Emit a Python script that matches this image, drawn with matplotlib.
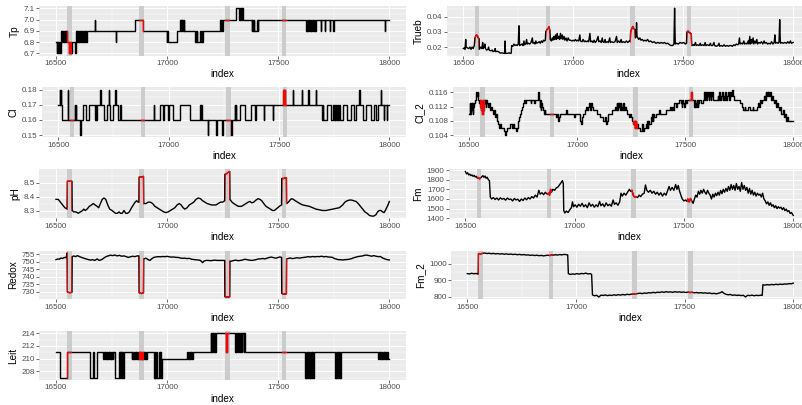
import numpy as np
import matplotlib
matplotlib.use("Agg")
import matplotlib.pyplot as plt
import matplotlib.patches as mpatches
from matplotlib.transforms import blended_transform_factory

plt.rcParams['font.family'] = ['Liberation Sans', 'DejaVu Sans']

# flagged intervals (grey bands, red parts of the lines)
bands = [(16551, 16572), (16874, 16894), (17260, 17282), (17516, 17537)]

# ---- step-like series: (index, value) where the value changes ----
tp = [(16500, 6.8), (16503, 6.7), (16506, 6.8), (16508, 6.7), (16511, 6.8), (16513, 6.7), (16516, 6.8),
      (16518, 6.7), (16521, 6.8), (16524, 6.9), (16527, 6.8), (16529, 6.9), (16532, 6.8), (16535, 6.9),
      (16538, 6.8), (16541, 6.9), (16544, 6.8), (16547, 6.9), (16550, 6.8), (16559, 6.7), (16562, 6.8),
      (16564, 6.7), (16567, 6.8), (16569, 6.7), (16572, 6.8), (16586, 6.7), (16588, 6.8), (16590, 6.9),
      (16593, 6.8), (16596, 6.9), (16599, 6.8), (16602, 6.9), (16605, 6.8), (16608, 6.9), (16611, 6.8),
      (16614, 6.9), (16617, 6.8), (16620, 6.9), (16623, 6.8), (16626, 6.9), (16629, 6.8), (16632, 6.9),
      (16635, 6.8), (16638, 6.9), (16675, 7.0), (16677, 6.9), (16769, 6.8), (16771, 6.9), (16855, 7.0),
      (16893, 6.9), (16998, 6.8), (17000, 6.9), (17002, 6.8), (17004, 6.9), (17006, 6.8), (17043, 6.9),
      (17058, 7.0), (17061, 6.9), (17063, 7.0), (17066, 6.9), (17069, 7.0), (17072, 6.9), (17074, 7.0),
      (17077, 6.9), (17125, 6.8), (17128, 6.9), (17130, 6.8), (17133, 6.9), (17135, 6.8), (17150, 6.9),
      (17152, 6.8), (17155, 6.9), (17157, 6.8), (17160, 6.9), (17238, 7.0), (17241, 6.9), (17244, 7.0),
      (17247, 6.9), (17250, 7.0), (17310, 7.1), (17325, 7.0), (17327, 7.1), (17330, 7.0), (17332, 7.1),
      (17335, 7.0), (17337, 7.1), (17340, 7.0), (17380, 6.9), (17383, 7.0), (17386, 6.9), (17389, 7.0),
      (17392, 6.9), (17405, 7.0), (17407, 6.9), (17410, 7.0), (17625, 6.9), (17628, 7.0), (17631, 6.9),
      (17634, 7.0), (17637, 6.9), (17640, 7.0), (17643, 6.9), (17646, 7.0), (17649, 6.9), (17652, 7.0),
      (17655, 6.9), (17658, 7.0), (17661, 6.9), (17664, 7.0), (17667, 6.9), (17670, 7.0), (17691, 6.9),
      (17693, 7.0), (17710, 6.9), (17712, 7.0), (17733, 6.9), (17735, 7.0), (17748, 6.9), (17750, 7.0),
      (17980, 6.9), (17982, 7.0), (18000, 7.0)]

cl = [(16500, 0.17), (16507, 0.18), (16509, 0.17), (16511, 0.18), (16513, 0.17), (16518, 0.16), (16543, 0.18),
      (16545, 0.16), (16575, 0.17), (16577, 0.16), (16579, 0.17), (16582, 0.16), (16598, 0.15), (16603, 0.16),
      (16612, 0.17), (16627, 0.16), (16638, 0.17), (16667, 0.16), (16669, 0.17), (16672, 0.16), (16675, 0.17),
      (16690, 0.18), (16692, 0.17), (16705, 0.16), (16720, 0.17), (16728, 0.18), (16730, 0.17), (16736, 0.16),
      (16750, 0.17), (16758, 0.18), (16760, 0.17), (16770, 0.16), (16781, 0.17), (16784, 0.16), (16932, 0.17),
      (16935, 0.16), (16959, 0.17), (16976, 0.16), (16978, 0.17), (16999, 0.16), (17001, 0.17), (17020, 0.16),
      (17052, 0.17), (17096, 0.16), (17143, 0.17), (17145, 0.16), (17147, 0.17), (17149, 0.16), (17176, 0.15),
      (17179, 0.16), (17216, 0.15), (17219, 0.16), (17243, 0.15), (17246, 0.16), (17284, 0.15), (17287, 0.16),
      (17299, 0.17), (17301, 0.16), (17303, 0.17), (17306, 0.16), (17325, 0.17), (17348, 0.16), (17372, 0.17),
      (17392, 0.16), (17394, 0.17), (17430, 0.16), (17432, 0.17), (17472, 0.16), (17474, 0.17), (17520, 0.18),
      (17522, 0.17), (17524, 0.18), (17527, 0.17), (17562, 0.18), (17564, 0.17), (17603, 0.18), (17605, 0.17),
      (17633, 0.18), (17635, 0.17), (17667, 0.18), (17669, 0.17), (17694, 0.16), (17697, 0.17), (17699, 0.16),
      (17719, 0.17), (17735, 0.16), (17745, 0.17), (17748, 0.16), (17752, 0.17), (17755, 0.16), (17760, 0.17),
      (17762, 0.16), (17766, 0.17), (17768, 0.16), (17772, 0.17), (17775, 0.16), (17790, 0.17), (17810, 0.16),
      (17825, 0.17), (17840, 0.16), (17850, 0.17), (17864, 0.18), (17866, 0.17), (17880, 0.16), (17895, 0.17),
      (17915, 0.16), (17930, 0.17), (17940, 0.16), (17950, 0.17), (17962, 0.18), (17964, 0.17), (17975, 0.16),
      (17977, 0.17), (17988, 0.16), (17990, 0.17), (18000, 0.17)]

leit = [(16500, 211), (16519, 207), (16551, 211), (16653, 207), (16668, 211), (16672, 207), (16686, 211),
        (16713, 210), (16716, 211), (16719, 210), (16722, 211), (16725, 210), (16728, 211), (16731, 210),
        (16734, 211), (16737, 210), (16740, 211), (16743, 210), (16746, 211), (16749, 210), (16752, 211),
        (16755, 210), (16758, 211), (16764, 207), (16784, 211), (16786, 207), (16789, 211), (16791, 207),
        (16794, 211), (16796, 207), (16799, 211), (16801, 207), (16804, 211), (16840, 210), (16843, 211),
        (16846, 210), (16849, 211), (16852, 210), (16855, 211), (16858, 210), (16861, 211), (16864, 210),
        (16867, 211), (16870, 210), (16873, 211), (16876, 210), (16879, 211), (16882, 210), (16885, 211),
        (16888, 210), (16891, 211), (16894, 210), (16897, 211), (16900, 210), (16903, 211), (16906, 210),
        (16908, 211), (16941, 207), (16944, 211), (16947, 207), (16950, 211), (16953, 207), (16965, 211),
        (16967, 207), (16970, 211), (16972, 207), (16975, 210), (17091, 211), (17094, 210), (17097, 211),
        (17100, 210), (17103, 211), (17106, 210), (17109, 211), (17112, 210), (17115, 211), (17196, 214),
        (17199, 211), (17202, 214), (17205, 211), (17208, 214), (17211, 211), (17214, 214), (17217, 211),
        (17220, 214), (17267, 211), (17269, 214), (17305, 211), (17308, 214), (17312, 211), (17315, 214),
        (17320, 211), (17323, 214), (17328, 211), (17331, 214), (17336, 211), (17339, 214), (17344, 211),
        (17347, 214), (17350, 211), (17620, 207), (17623, 211), (17626, 207), (17629, 211), (17632, 207),
        (17635, 211), (17638, 207), (17641, 211), (17644, 207), (17647, 211), (17650, 207), (17653, 211),
        (17656, 207), (17659, 211), (17755, 207), (17758, 211), (17761, 207), (17764, 211), (17767, 207),
        (17770, 211), (17773, 207), (17776, 211), (17779, 207), (17782, 211), (17950, 210), (17953, 211),
        (17956, 210), (17959, 211), (17962, 210), (17965, 211), (17968, 210), (17971, 211), (17974, 210),
        (17977, 211), (17980, 210), (17983, 211), (17986, 210), (17989, 211), (17992, 210), (18000, 210)]

cl2 = [(16500, 0.110), (16503, 0.113), (16505, 0.110), (16508, 0.112), (16510, 0.113), (16513, 0.111),
       (16515, 0.113), (16518, 0.110), (16520, 0.112), (16523, 0.113), (16527, 0.114), (16530, 0.115),
       (16533, 0.116), (16537, 0.115), (16540, 0.116), (16543, 0.114), (16547, 0.113), (16550, 0.114),
       (16553, 0.112), (16555, 0.114), (16557, 0.111), (16559, 0.113), (16561, 0.110), (16563, 0.114),
       (16565, 0.111), (16567, 0.113), (16569, 0.114), (16572, 0.113), (16575, 0.114), (16578, 0.112),
       (16580, 0.114), (16583, 0.113), (16587, 0.112), (16591, 0.113), (16595, 0.111), (16600, 0.112),
       (16605, 0.111), (16610, 0.110), (16615, 0.111), (16620, 0.109), (16625, 0.110), (16630, 0.108),
       (16634, 0.107), (16638, 0.106), (16645, 0.107), (16648, 0.106), (16660, 0.105), (16667, 0.104),
       (16672, 0.105), (16677, 0.106), (16690, 0.107), (16700, 0.106), (16705, 0.107), (16710, 0.106),
       (16715, 0.105), (16720, 0.106), (16725, 0.108), (16732, 0.109), (16736, 0.110), (16740, 0.111),
       (16744, 0.112), (16748, 0.113), (16752, 0.114), (16760, 0.113), (16763, 0.114), (16785, 0.113),
       (16788, 0.114), (16800, 0.113), (16803, 0.114), (16818, 0.116), (16822, 0.114), (16826, 0.112),
       (16829, 0.114), (16832, 0.111), (16835, 0.113), (16838, 0.112), (16842, 0.111), (16846, 0.110),
       (16850, 0.111), (16853, 0.110), (16900, 0.109), (16908, 0.110), (16912, 0.108), (16916, 0.109),
       (16920, 0.110), (16950, 0.111), (16955, 0.110), (16985, 0.109), (16990, 0.110), (17015, 0.108),
       (17018, 0.107), (17022, 0.109), (17028, 0.110), (17035, 0.111), (17040, 0.112), (17044, 0.111),
       (17050, 0.112), (17054, 0.113), (17058, 0.111), (17062, 0.112), (17066, 0.113), (17070, 0.112),
       (17075, 0.111), (17090, 0.110), (17105, 0.109), (17120, 0.108), (17130, 0.109), (17133, 0.107),
       (17137, 0.108), (17142, 0.110), (17160, 0.111), (17175, 0.112), (17180, 0.111), (17183, 0.113),
       (17186, 0.111), (17189, 0.113), (17192, 0.112), (17195, 0.113), (17198, 0.111), (17201, 0.113),
       (17204, 0.112), (17208, 0.111), (17212, 0.113), (17216, 0.111), (17220, 0.112), (17225, 0.111),
       (17230, 0.110), (17240, 0.109), (17245, 0.110), (17250, 0.109), (17256, 0.108), (17260, 0.107),
       (17263, 0.108), (17266, 0.106), (17269, 0.108), (17272, 0.106), (17275, 0.107), (17280, 0.106),
       (17290, 0.105), (17298, 0.106), (17302, 0.107), (17305, 0.105), (17310, 0.106), (17318, 0.107),
       (17321, 0.106), (17324, 0.108), (17327, 0.106), (17330, 0.108), (17334, 0.107), (17340, 0.109),
       (17344, 0.108), (17347, 0.110), (17350, 0.108), (17353, 0.110), (17356, 0.109), (17365, 0.110),
       (17380, 0.111), (17385, 0.110), (17410, 0.111), (17430, 0.112), (17433, 0.111), (17437, 0.112),
       (17442, 0.111), (17446, 0.113), (17455, 0.112), (17460, 0.113), (17470, 0.114), (17480, 0.113),
       (17483, 0.112), (17486, 0.114), (17490, 0.113), (17494, 0.112), (17498, 0.114), (17502, 0.113),
       (17506, 0.114), (17527, 0.116), (17531, 0.114), (17540, 0.112), (17543, 0.114), (17546, 0.112),
       (17549, 0.113), (17552, 0.112), (17555, 0.114), (17558, 0.112), (17561, 0.113), (17564, 0.114),
       (17575, 0.113), (17580, 0.114), (17585, 0.115), (17588, 0.116), (17590, 0.114), (17593, 0.116),
       (17596, 0.114), (17599, 0.116), (17602, 0.115), (17605, 0.116), (17608, 0.114), (17611, 0.115),
       (17614, 0.116), (17617, 0.114), (17620, 0.115), (17624, 0.116), (17628, 0.114), (17650, 0.115),
       (17653, 0.114), (17656, 0.116), (17660, 0.114), (17665, 0.115), (17670, 0.116), (17673, 0.114),
       (17676, 0.115), (17680, 0.114), (17684, 0.116), (17687, 0.114), (17692, 0.115), (17698, 0.116),
       (17702, 0.114), (17706, 0.116), (17712, 0.115), (17716, 0.1168), (17719, 0.115), (17724, 0.114),
       (17755, 0.113), (17762, 0.112), (17766, 0.111), (17775, 0.112), (17778, 0.111), (17790, 0.112),
       (17800, 0.111), (17812, 0.112), (17815, 0.111), (17830, 0.112), (17838, 0.113), (17842, 0.112),
       (17846, 0.114), (17850, 0.113), (17854, 0.114), (17865, 0.115), (17868, 0.114), (17872, 0.116),
       (17875, 0.115), (17878, 0.116), (17881, 0.115), (17884, 0.116), (17888, 0.115), (17892, 0.116),
       (17896, 0.114), (17900, 0.115), (17905, 0.114), (17912, 0.113), (17916, 0.114), (17920, 0.112),
       (17925, 0.113), (17930, 0.112), (17935, 0.111), (17940, 0.112), (17945, 0.110), (17950, 0.111),
       (17955, 0.109), (17960, 0.110), (17965, 0.108), (17970, 0.109), (17975, 0.108), (18000, 0.108)]

# ---- continuous series: (index, value) ----
ph = [(16500, 8.38), (16510, 8.38), (16520, 8.36), (16530, 8.34), (16540, 8.32), (16550, 8.31), (16551, 8.51),
      (16564, 8.51), (16572, 8.51), (16573, 8.30), (16580, 8.29), (16590, 8.29), (16600, 8.28), (16610, 8.29),
      (16620, 8.30), (16625, 8.31), (16632, 8.30), (16640, 8.31), (16650, 8.33), (16660, 8.34), (16668, 8.35),
      (16676, 8.34), (16685, 8.33), (16692, 8.32), (16700, 8.35), (16708, 8.38), (16716, 8.39), (16724, 8.38),
      (16733, 8.34), (16742, 8.31), (16752, 8.30), (16760, 8.29), (16768, 8.28), (16776, 8.28), (16784, 8.29),
      (16790, 8.28), (16798, 8.28), (16806, 8.30), (16814, 8.28), (16822, 8.28), (16830, 8.29), (16840, 8.32),
      (16848, 8.34), (16856, 8.36), (16863, 8.37), (16870, 8.36), (16873, 8.36), (16874, 8.54), (16885, 8.54),
      (16894, 8.545), (16895, 8.35), (16905, 8.35), (16915, 8.36), (16925, 8.36), (16935, 8.35), (16945, 8.33),
      (16955, 8.32), (16965, 8.31), (16975, 8.30), (16985, 8.29), (16995, 8.285), (17005, 8.29), (17015, 8.30),
      (17025, 8.31), (17035, 8.32), (17045, 8.34), (17055, 8.35), (17063, 8.34), (17072, 8.32), (17080, 8.31),
      (17090, 8.32), (17100, 8.34), (17110, 8.35), (17120, 8.36), (17130, 8.38), (17140, 8.39), (17150, 8.385),
      (17160, 8.37), (17170, 8.36), (17180, 8.35), (17190, 8.345), (17200, 8.34), (17210, 8.34), (17220, 8.34),
      (17230, 8.35), (17240, 8.36), (17250, 8.36), (17259, 8.37), (17260, 8.56), (17268, 8.565), (17276, 8.575),
      (17282, 8.58), (17283, 8.38), (17292, 8.36), (17300, 8.35), (17310, 8.34), (17320, 8.33), (17335, 8.33),
      (17345, 8.34), (17355, 8.35), (17365, 8.36), (17373, 8.365), (17381, 8.355), (17390, 8.36), (17400, 8.375),
      (17410, 8.385), (17418, 8.38), (17426, 8.37), (17435, 8.35), (17445, 8.33), (17455, 8.32), (17465, 8.31),
      (17475, 8.30), (17483, 8.30), (17490, 8.31), (17498, 8.32), (17505, 8.33), (17515, 8.34), (17516, 8.53),
      (17525, 8.53), (17537, 8.535), (17538, 8.35), (17546, 8.36), (17553, 8.375), (17560, 8.385), (17568, 8.38),
      (17577, 8.37), (17587, 8.36), (17597, 8.35), (17610, 8.34), (17625, 8.335), (17640, 8.33), (17655, 8.32),
      (17670, 8.31), (17685, 8.305), (17700, 8.30), (17715, 8.30), (17730, 8.305), (17745, 8.31), (17760, 8.315),
      (17775, 8.32), (17790, 8.34), (17800, 8.36), (17810, 8.37), (17820, 8.375), (17830, 8.375), (17840, 8.37),
      (17850, 8.365), (17860, 8.35), (17870, 8.33), (17880, 8.31), (17890, 8.29), (17900, 8.28), (17910, 8.265),
      (17920, 8.26), (17930, 8.26), (17940, 8.27), (17947, 8.29), (17955, 8.30), (17962, 8.30), (17970, 8.29),
      (17976, 8.285), (17982, 8.30), (17988, 8.32), (17994, 8.34), (18000, 8.365)]

redox = [(16500, 751.5), (16508, 752), (16515, 751.8), (16522, 752.6), (16530, 752.3), (16538, 753), (16545, 752.8),
         (16548, 754), (16550, 756), (16551, 730), (16562, 729.5), (16572, 729.8), (16573, 753.5), (16580, 754),
         (16588, 753.5), (16596, 754.2), (16605, 753.6), (16615, 753), (16625, 752.5), (16635, 752), (16645, 751.6),
         (16655, 751.2), (16665, 751.5), (16675, 751), (16685, 752), (16695, 751), (16705, 751.5), (16715, 752.5),
         (16725, 753.5), (16735, 754), (16745, 754.5), (16755, 754.2), (16765, 754.6), (16775, 754), (16785, 754.4),
         (16795, 753.8), (16805, 754), (16815, 753.6), (16825, 753), (16835, 753.4), (16845, 753.8), (16855, 753.5),
         (16865, 754), (16873, 754), (16874, 729.5), (16885, 729), (16894, 729.5), (16895, 752), (16905, 752.5),
         (16915, 751.5), (16923, 751), (16930, 752), (16940, 753), (16950, 753.3), (16960, 753.5), (16970, 753.4),
         (16980, 753.6), (16990, 753.5), (17000, 753.7), (17010, 753.4), (17020, 753.2), (17030, 753.3),
         (17040, 753), (17050, 753), (17060, 752.6), (17070, 752.4), (17080, 752.5), (17090, 752.2), (17100, 752.4),
         (17110, 751.8), (17120, 751.6), (17130, 751.4), (17140, 751.3), (17150, 751), (17160, 749.5),
         (17165, 750.5), (17175, 751), (17185, 751), (17195, 750.8), (17205, 751), (17215, 751.2), (17225, 751),
         (17235, 751), (17245, 751), (17259, 751), (17260, 726.8), (17270, 726.6), (17282, 726.8), (17283, 750.5),
         (17290, 750.5), (17300, 751), (17310, 751.2), (17320, 750.8), (17330, 751), (17340, 751.3), (17350, 751.8),
         (17360, 751.5), (17370, 751.2), (17380, 751), (17390, 751.2), (17400, 751.5), (17410, 752), (17420, 752),
         (17430, 752.3), (17440, 752), (17450, 752.5), (17460, 753), (17470, 753.2), (17480, 752.8), (17490, 752.5),
         (17500, 753), (17508, 753.3), (17515, 753), (17516, 729), (17525, 728.5), (17537, 728.8), (17538, 752),
         (17545, 752.3), (17555, 752.6), (17565, 752.2), (17575, 752.5), (17585, 752.8), (17595, 752.5),
         (17605, 752.8), (17615, 753), (17625, 753.2), (17635, 753.5), (17645, 753.3), (17655, 753.6),
         (17665, 753.4), (17675, 753.6), (17685, 753.5), (17695, 753.8), (17705, 753.4), (17715, 753.6),
         (17725, 753.3), (17735, 753.2), (17745, 753), (17752, 752.3), (17760, 752), (17770, 751.5), (17780, 751.5),
         (17790, 751.3), (17800, 751.5), (17810, 751.6), (17820, 751.8), (17830, 752.2), (17840, 752.8),
         (17850, 753.2), (17860, 753.6), (17870, 753.8), (17880, 754), (17890, 754.5), (17900, 754.5),
         (17910, 754.2), (17920, 753.8), (17930, 754.2), (17940, 753.8), (17950, 753.5), (17960, 753.6),
         (17970, 752.6), (17980, 752), (17990, 751.5), (18000, 751.3)]

trueb = [(16500, 0.019), (16505, 0.0195), (16508, 0.0185), (16511, 0.025), (16513, 0.020), (16518, 0.0195),
         (16525, 0.019), (16530, 0.020), (16535, 0.0185), (16540, 0.020), (16545, 0.019), (16550, 0.021),
         (16553, 0.026), (16556, 0.027), (16560, 0.028), (16564, 0.0275), (16568, 0.026), (16572, 0.0255),
         (16573, 0.0185), (16580, 0.020), (16585, 0.019), (16588, 0.023), (16591, 0.019), (16595, 0.020),
         (16598, 0.022), (16601, 0.019), (16606, 0.018), (16612, 0.0185), (16615, 0.020), (16618, 0.018),
         (16625, 0.0175), (16632, 0.018), (16635, 0.017), (16643, 0.0175), (16645, 0.019), (16647, 0.017),
         (16655, 0.0172), (16662, 0.0168), (16668, 0.016), (16675, 0.0162), (16682, 0.016), (16688, 0.0158),
         (16690, 0.024), (16692, 0.016), (16700, 0.0158), (16708, 0.0162), (16714, 0.0158), (16718, 0.016),
         (16720, 0.021), (16725, 0.0205), (16730, 0.022), (16735, 0.021), (16740, 0.0215), (16745, 0.021),
         (16750, 0.022), (16753, 0.034), (16756, 0.021), (16762, 0.0215), (16768, 0.022), (16772, 0.021),
         (16776, 0.024), (16779, 0.0215), (16784, 0.022), (16788, 0.025), (16791, 0.022), (16796, 0.0225),
         (16802, 0.022), (16808, 0.023), (16814, 0.026), (16817, 0.0225), (16822, 0.023), (16826, 0.022),
         (16830, 0.024), (16834, 0.0225), (16840, 0.023), (16846, 0.0235), (16850, 0.0225), (16855, 0.024),
         (16860, 0.023), (16865, 0.0245), (16870, 0.024), (16873, 0.0245), (16875, 0.030), (16880, 0.0315),
         (16885, 0.032), (16890, 0.0333), (16894, 0.031), (16896, 0.025), (16900, 0.024), (16905, 0.026),
         (16908, 0.0245), (16912, 0.027), (16915, 0.025), (16920, 0.028), (16923, 0.025), (16927, 0.029),
         (16930, 0.0255), (16934, 0.027), (16938, 0.025), (16942, 0.029), (16945, 0.0255), (16950, 0.028),
         (16953, 0.025), (16958, 0.027), (16962, 0.0245), (16967, 0.026), (16972, 0.024), (16977, 0.026),
         (16982, 0.0245), (16988, 0.0245), (16995, 0.024), (17000, 0.0245), (17005, 0.024), (17010, 0.025),
         (17015, 0.024), (17020, 0.0245), (17025, 0.024), (17030, 0.028), (17033, 0.024), (17040, 0.0235),
         (17045, 0.025), (17050, 0.0235), (17055, 0.024), (17060, 0.0235), (17066, 0.024), (17070, 0.0235),
         (17076, 0.029), (17079, 0.0235), (17085, 0.024), (17090, 0.023), (17095, 0.0245), (17100, 0.023),
         (17106, 0.024), (17113, 0.027), (17116, 0.0235), (17122, 0.024), (17127, 0.023), (17132, 0.026),
         (17135, 0.0235), (17140, 0.023), (17145, 0.025), (17148, 0.023), (17155, 0.0235), (17160, 0.023),
         (17166, 0.026), (17169, 0.023), (17175, 0.0235), (17182, 0.023), (17190, 0.0235), (17197, 0.027),
         (17200, 0.023), (17206, 0.024), (17212, 0.023), (17218, 0.025), (17221, 0.023), (17228, 0.0235),
         (17235, 0.023), (17242, 0.024), (17248, 0.023), (17255, 0.024), (17259, 0.0235), (17261, 0.030),
         (17266, 0.032), (17271, 0.0335), (17276, 0.032), (17281, 0.0315), (17283, 0.026), (17286, 0.027),
         (17288, 0.036), (17290, 0.027), (17294, 0.026), (17298, 0.025), (17303, 0.026), (17308, 0.0245),
         (17314, 0.025), (17320, 0.024), (17326, 0.0245), (17332, 0.024), (17338, 0.025), (17345, 0.0235),
         (17352, 0.024), (17360, 0.023), (17368, 0.0235), (17376, 0.0225), (17385, 0.023), (17393, 0.0225),
         (17400, 0.023), (17408, 0.0225), (17415, 0.023), (17422, 0.0222), (17430, 0.0225), (17438, 0.0215),
         (17445, 0.021), (17452, 0.021), (17458, 0.022), (17461, 0.0455), (17464, 0.022), (17470, 0.0225),
         (17478, 0.022), (17486, 0.023), (17494, 0.0225), (17502, 0.023), (17510, 0.022), (17515, 0.0225),
         (17517, 0.030), (17522, 0.0305), (17528, 0.0295), (17534, 0.029), (17537, 0.0285), (17539, 0.021),
         (17546, 0.0215), (17550, 0.021), (17556, 0.023), (17559, 0.021), (17565, 0.0215), (17572, 0.021),
         (17578, 0.0225), (17581, 0.021), (17588, 0.0215), (17595, 0.021), (17600, 0.023), (17603, 0.021),
         (17610, 0.0215), (17618, 0.021), (17624, 0.0225), (17627, 0.021), (17634, 0.021), (17640, 0.023),
         (17643, 0.021), (17650, 0.0205), (17658, 0.021), (17663, 0.0225), (17666, 0.0205), (17673, 0.021),
         (17680, 0.0205), (17686, 0.0215), (17692, 0.0205), (17700, 0.021), (17706, 0.0205), (17712, 0.021),
         (17718, 0.021), (17724, 0.0205), (17730, 0.0215), (17736, 0.021), (17742, 0.022), (17748, 0.0215),
         (17752, 0.022), (17756, 0.026), (17759, 0.022), (17764, 0.0225), (17770, 0.022), (17776, 0.024),
         (17779, 0.022), (17785, 0.0225), (17790, 0.022), (17796, 0.024), (17799, 0.022), (17803, 0.027),
         (17806, 0.022), (17810, 0.025), (17813, 0.0225), (17818, 0.026), (17821, 0.022), (17826, 0.024),
         (17830, 0.0225), (17835, 0.025), (17838, 0.022), (17844, 0.023), (17850, 0.0225), (17856, 0.0235),
         (17862, 0.022), (17868, 0.024), (17872, 0.0225), (17878, 0.023), (17884, 0.022), (17890, 0.0225),
         (17896, 0.022), (17902, 0.0235), (17908, 0.022), (17914, 0.023), (17917, 0.028), (17920, 0.0225),
         (17926, 0.023), (17932, 0.0225), (17936, 0.0235), (17939, 0.038), (17942, 0.0225), (17948, 0.023),
         (17955, 0.0225), (17962, 0.023), (17970, 0.0225), (17976, 0.0235), (17982, 0.0225), (17988, 0.024),
         (17992, 0.0225), (18000, 0.023)]

fm = [(16500, 1885), (16505, 1860), (16510, 1872), (16515, 1850), (16520, 1858), (16525, 1842), (16530, 1850),
      (16535, 1835), (16540, 1845), (16545, 1828), (16550, 1835), (16555, 1815), (16560, 1822), (16565, 1808),
      (16570, 1818), (16575, 1830), (16580, 1842), (16585, 1825), (16590, 1838), (16595, 1815), (16600, 1825),
      (16605, 1800), (16610, 1790), (16614, 1620), (16620, 1600), (16628, 1615), (16636, 1595), (16644, 1610),
      (16652, 1590), (16660, 1612), (16668, 1598), (16676, 1605), (16684, 1588), (16692, 1610), (16700, 1595),
      (16708, 1600), (16716, 1580), (16724, 1605), (16732, 1590), (16740, 1598), (16748, 1575), (16756, 1600),
      (16764, 1585), (16772, 1610), (16780, 1592), (16788, 1615), (16796, 1600), (16804, 1625), (16812, 1610),
      (16820, 1640), (16828, 1620), (16836, 1690), (16842, 1650), (16850, 1665), (16858, 1645), (16866, 1670),
      (16874, 1650), (16880, 1660), (16885, 1640), (16890, 1700), (16894, 1670), (16900, 1700), (16908, 1690),
      (16916, 1715), (16924, 1725), (16932, 1750), (16938, 1770), (16944, 1790), (16948, 1760), (16950, 1480),
      (16955, 1455), (16962, 1475), (16970, 1460), (16978, 1490), (16985, 1510), (16990, 1570), (16995, 1520),
      (17002, 1540), (17010, 1515), (17018, 1545), (17026, 1525), (17034, 1555), (17042, 1520), (17050, 1540),
      (17058, 1510), (17066, 1560), (17074, 1525), (17082, 1545), (17090, 1515), (17098, 1540), (17106, 1520),
      (17114, 1575), (17120, 1530), (17128, 1550), (17136, 1520), (17144, 1560), (17152, 1530), (17160, 1545),
      (17168, 1525), (17176, 1590), (17182, 1545), (17190, 1560), (17198, 1535), (17206, 1570), (17212, 1660),
      (17218, 1630), (17226, 1660), (17234, 1640), (17242, 1670), (17250, 1700), (17256, 1680), (17262, 1690),
      (17268, 1640), (17274, 1620), (17280, 1625), (17288, 1615), (17295, 1640), (17302, 1625), (17310, 1650),
      (17318, 1660), (17324, 1745), (17330, 1690), (17338, 1670), (17346, 1690), (17354, 1660), (17362, 1680),
      (17370, 1650), (17378, 1670), (17386, 1640), (17394, 1665), (17402, 1630), (17410, 1660), (17418, 1640),
      (17426, 1690), (17432, 1730), (17438, 1690), (17446, 1720), (17454, 1690), (17462, 1750), (17468, 1700),
      (17474, 1740), (17480, 1680), (17486, 1640), (17492, 1600), (17500, 1580), (17508, 1590), (17514, 1575),
      (17518, 1600), (17524, 1570), (17530, 1605), (17536, 1580), (17542, 1555), (17548, 1600), (17554, 1640),
      (17560, 1620), (17566, 1680), (17572, 1650), (17578, 1690), (17584, 1660), (17590, 1700), (17596, 1670),
      (17602, 1650), (17608, 1690), (17614, 1660), (17620, 1640), (17626, 1600), (17632, 1650), (17638, 1620),
      (17644, 1660), (17650, 1635), (17656, 1670), (17662, 1640), (17668, 1690), (17674, 1655), (17680, 1700),
      (17686, 1670), (17692, 1710), (17698, 1680), (17704, 1730), (17710, 1690), (17716, 1750), (17722, 1700),
      (17728, 1740), (17734, 1690), (17740, 1760), (17746, 1700), (17752, 1730), (17758, 1680), (17764, 1770),
      (17770, 1700), (17776, 1740), (17782, 1690), (17788, 1720), (17794, 1660), (17800, 1710), (17806, 1650),
      (17812, 1690), (17818, 1640), (17824, 1670), (17830, 1630), (17836, 1660), (17842, 1640), (17848, 1650),
      (17854, 1620), (17860, 1660), (17866, 1600), (17872, 1580), (17878, 1550), (17884, 1570), (17890, 1535),
      (17896, 1560), (17902, 1525), (17908, 1540), (17914, 1510), (17920, 1530), (17926, 1500), (17932, 1520),
      (17938, 1505), (17944, 1515), (17950, 1490), (17956, 1510), (17962, 1480), (17968, 1495), (17974, 1470),
      (17980, 1480), (17986, 1450), (17992, 1460), (18000, 1430)]

fm2 = [(16500, 940), (16510, 938), (16520, 942), (16530, 939), (16540, 941), (16550, 937), (16551, 1062),
       (16560, 1060), (16570, 1063), (16580, 1066), (16590, 1062), (16600, 1064), (16610, 1061), (16620, 1063),
       (16630, 1060), (16640, 1062), (16650, 1059), (16660, 1061), (16670, 1058), (16680, 1060), (16690, 1057),
       (16700, 1059), (16710, 1056), (16720, 1058), (16730, 1055), (16740, 1057), (16750, 1054), (16760, 1056),
       (16770, 1053), (16780, 1054), (16790, 1051), (16800, 1053), (16810, 1050), (16820, 1052), (16830, 1049),
       (16840, 1051), (16850, 1048), (16860, 1050), (16870, 1052), (16880, 1050), (16888, 1055), (16895, 1052),
       (16905, 1055), (16915, 1053), (16925, 1056), (16935, 1054), (16945, 1057), (16955, 1055), (16962, 1054),
       (16965, 940), (16975, 935), (16985, 938), (16995, 936), (17005, 940), (17015, 937), (17025, 941),
       (17035, 939), (17045, 943), (17055, 938), (17065, 940), (17072, 935), (17076, 810), (17085, 805),
       (17095, 808), (17105, 797), (17115, 809), (17125, 807), (17135, 810), (17145, 806), (17155, 809),
       (17165, 807), (17175, 811), (17185, 808), (17195, 812), (17205, 809), (17215, 813), (17225, 810),
       (17235, 814), (17245, 812), (17255, 815), (17265, 815), (17275, 817), (17285, 819), (17295, 821),
       (17305, 818), (17315, 822), (17325, 820), (17335, 824), (17345, 822), (17355, 826), (17365, 823),
       (17375, 827), (17385, 825), (17395, 829), (17405, 826), (17415, 830), (17425, 827), (17435, 829),
       (17445, 826), (17455, 830), (17465, 827), (17475, 829), (17485, 826), (17495, 828), (17505, 825),
       (17515, 827), (17525, 825), (17535, 826), (17545, 823), (17555, 825), (17565, 822), (17575, 824),
       (17585, 821), (17595, 823), (17605, 820), (17615, 822), (17625, 818), (17635, 820), (17645, 817),
       (17655, 820), (17665, 824), (17672, 830), (17680, 821), (17690, 814), (17700, 811), (17710, 813),
       (17720, 808), (17730, 810), (17740, 807), (17750, 809), (17760, 806), (17770, 808), (17780, 798),
       (17790, 808), (17800, 806), (17810, 809), (17820, 805), (17830, 808), (17840, 806), (17850, 809),
       (17857, 807), (17860, 872), (17870, 870), (17880, 873), (17890, 871), (17900, 874), (17910, 872),
       (17920, 875), (17930, 873), (17940, 876), (17950, 874), (17960, 877), (17970, 876), (17980, 879),
       (17990, 878), (18000, 882)]

# y ticks of every panel
tp_ticks = [6.7, 6.8, 6.9, 7.0, 7.1]
tp_labels = ['6.7', '6.8', '6.9', '7.0', '7.1']
cl_ticks = [0.15, 0.16, 0.17, 0.18]
cl_labels = ['0.15', '0.16', '0.17', '0.18']
ph_ticks = [8.3, 8.4, 8.5]
ph_labels = ['8.3', '8.4', '8.5']
redox_ticks = [730, 735, 740, 745, 750, 755]
leit_ticks = [208, 210, 212, 214]
trueb_ticks = [0.02, 0.03, 0.04]
trueb_labels = ['0.02', '0.03', '0.04']
cl2_ticks = [0.104, 0.108, 0.112, 0.116]
cl2_labels = ['0.104', '0.108', '0.112', '0.116']
fm_ticks = [1400, 1500, 1600, 1700, 1800, 1900]
fm2_ticks = [800, 900, 1000]
x_ticks = [16500, 17000, 17500, 18000]

W, H = 803, 405
fig = plt.figure(figsize=(W / 100, H / 100), dpi=100)

tops = [6.0, 87.3, 169.3, 250.7, 331.0]
bottoms = [55.7, 137.3, 218.3, 299.3, 380.0]
LW = 1.0


def panel(row, left, right, data, name, ticks, labels=None, step=False):
    top, bot = tops[row], bottoms[row]
    ax = fig.add_axes([left / W, 1 - bot / H, (right - left) / W, (bot - top) / H])
    ax.set_facecolor('#EBEBEB')
    for s in ax.spines.values():
        s.set_visible(False)
    x = np.array([p[0] for p in data], float)
    y = np.array([p[1] for p in data], float)
    ds = 'steps-post' if step else 'default'

    ymin, ymax = y.min(), y.max()
    r = ymax - ymin
    ax.set_ylim(ymin - 0.05 * r, ymax + 0.05 * r)
    ax.set_xlim(16425, 18075)

    ax.plot(x, y, color='black', lw=LW, drawstyle=ds, zorder=2)
    tr = blended_transform_factory(ax.transData, ax.transAxes)
    for lo, hi in bands:
        ax.axvspan(lo, hi, color='#CCCCCC', lw=0, zorder=1)
        ln, = ax.plot(x, y, color='red', lw=LW, drawstyle=ds, zorder=3)
        ln.set_clip_path(mpatches.Rectangle((lo, 0), hi + 1 - lo, 1, transform=tr))

    # ggplot-like grid
    ax.set_xticks(x_ticks)
    ax.set_xticklabels([str(t) for t in x_ticks])
    ax.set_xticks([16750, 17250, 17750], minor=True)
    step_y = ticks[1] - ticks[0]
    ax.set_yticks(ticks)
    ax.set_yticklabels(labels if labels else [str(t) for t in ticks])
    lo_y, hi_y = ax.get_ylim()
    minors = [t + step_y / 2 for t in [ticks[0] - step_y] + list(ticks)]
    ax.set_yticks([m for m in minors if lo_y < m < hi_y], minor=True)
    ax.set_axisbelow(True)
    ax.grid(which='major', color='white', lw=0.7)
    ax.grid(which='minor', color='white', lw=0.35)
    ax.tick_params(which='major', length=2, width=0.5, color='#333333',
                   labelsize=5.8, labelcolor='#4D4D4D', pad=1.2)
    ax.tick_params(which='minor', length=0)
    ax.set_xlabel('index', fontsize=7.2, labelpad=1.5)
    ax.set_ylabel(name, fontsize=7.2, labelpad=2.5)
    return ax


panel(0, 39.3, 406, tp, 'Tp', tp_ticks, tp_labels, step=True)
panel(1, 41.7, 406, cl, 'Cl', cl_ticks, cl_labels, step=True)
panel(2, 39.3, 406, ph, 'pH', ph_ticks, ph_labels)
panel(3, 39.3, 406, redox, 'Redox', redox_ticks)
panel(4, 39.3, 406, leit, 'Leit', leit_ticks, step=True)

panel(0, 446.8, 809.6, trueb, 'Trueb', trueb_ticks, trueb_labels)
panel(1, 452.8, 809.6, cl2, 'Cl_2', cl2_ticks, cl2_labels, step=True)
panel(2, 449.0, 809.6, fm, 'Fm', fm_ticks)
panel(3, 451.0, 809.6, fm2, 'Fm_2', fm2_ticks)

fig.savefig('out.png', dpi=100)
